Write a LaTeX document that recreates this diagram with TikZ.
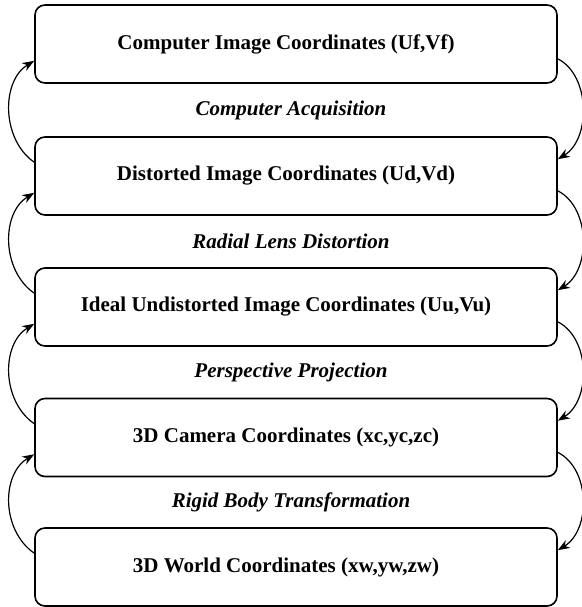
\documentclass[tikz,border=0pt]{standalone}
\usepackage{fontspec}
\setmainfont{Liberation Serif}
\usetikzlibrary{arrows.meta}
\begin{document}
\begin{tikzpicture}[x=1pt,y=-1pt,
  cbox/.style={draw,line width=1.6pt,rounded corners=10pt,minimum width=522pt,minimum height=78pt,
    font=\fontsize{21}{25}\selectfont\bfseries,inner sep=0pt},
  clabel/.style={font=\fontsize{21}{25}\selectfont\bfseries\itshape,inner sep=0pt},
  carrow/.style={line width=1.2pt,-{Stealth[length=12pt,width=9pt]}}]
\useasboundingbox (0,0) rectangle (581,607);
\node[cbox] (b1) at (296,44) {Computer Image Coordinates (Uf,Vf)\hspace*{20pt}};
\node[cbox] (b2) at (296,176) {Distorted Image Coordinates (Ud,Vd)\hspace*{20pt}};
\node[cbox] (b3) at (296,307) {Ideal Undistorted Image Coordinates (Uu,Vu)\hspace*{20pt}};
\node[cbox] (b4) at (296,437.5) {3D Camera Coordinates (xc,yc,zc)\hspace*{20pt}};
\node[cbox] (b5) at (296,567) {3D World Coordinates (xw,yw,zw)\hspace*{20pt}};
\node[clabel] (l1) at (291,110) {Computer Acquisition};
\node[clabel] (l2) at (291,241.5) {Radial Lens Distortion};
\node[clabel] (l3) at (291,372) {Perspective Projection};
\node[clabel] (l4) at (291,502.5) {Rigid Body Transformation};
\foreach \a/\b in {b1/b2,b2/b3,b3/b4,b4/b5}{
  \draw[carrow] ([yshift=25pt]\a.south east) .. controls +(33pt,-17pt) and +(33pt,20pt) .. ([yshift=-23pt]\b.north east);
  \draw[carrow] ([yshift=-26pt]\b.north west) .. controls +(-33pt,23pt) and +(-33pt,-20pt) .. ([yshift=23pt]\a.south west);
}
\end{tikzpicture}
\end{document}
